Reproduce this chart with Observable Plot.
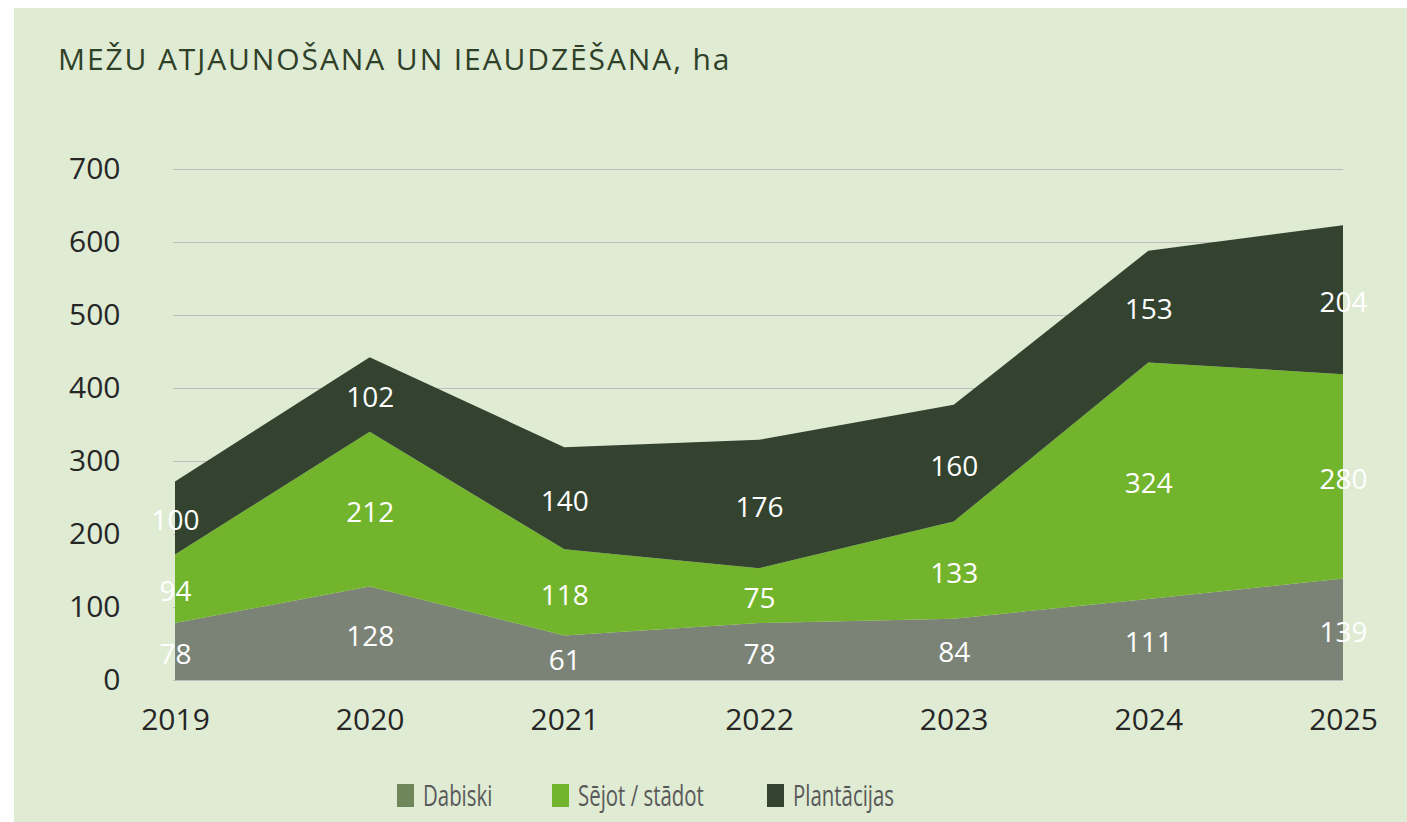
<!DOCTYPE html>
<html>
<head>
<meta charset="utf-8">
<script src="https://cdn.jsdelivr.net/npm/d3@7"></script>
<script src="https://cdn.jsdelivr.net/npm/@observablehq/plot@0.6"></script>
<style>
  html, body { margin: 0; padding: 0; background: #ffffff; }
  body { width: 1407px; height: 822px; position: relative; overflow: hidden; font-family: "Open Sans", sans-serif; }
  #card { position: absolute; left: 14px; top: 8px; width: 1393px; height: 814px; background: #dfebd3; }
  #title { position: absolute; left: 44px; top: 31px; font-size: 30px; letter-spacing: 1.9px; color: #2f4029; white-space: nowrap; line-height: 40px; }
  #chart { position: absolute; left: 0; top: 0; }
  .leg { position: absolute; top: 776px; height: 24px; }
  .sw { position: absolute; width: 17px; height: 23px; top: 0; }
  .lt { position: absolute; top: -9px; font-size: 30px; line-height: 40px; color: #595959; white-space: nowrap; transform: scaleX(0.68); transform-origin: left center; }
</style>
</head>
<body>
<div id="card">
  <div id="title">MEŽU ATJAUNOŠANA UN IEAUDZĒŠANA, ha</div>
  <div id="chart"></div>
  <div id="legend"></div>
</div>
<script>
const years = [2019, 2020, 2021, 2022, 2023, 2024, 2025];
const seriesNames = ["Dabiski", "Sējot / stādot", "Plantācijas"];
const dabiski = [78, 128, 61, 78, 84, 111, 139];
const sejot = [94, 212, 118, 75, 133, 324, 280];
const plantacijas = [100, 102, 140, 176, 160, 153, 204];
const areaColors = ["#7b8377", "#72b52d", "#334330"];
const legendColors = ["#6e8659", "#72b52d", "#334330"];
const yTicks = [0, 100, 200, 300, 400, 500, 600, 700];

const seriesValues = [dabiski, sejot, plantacijas];
const data = [];
seriesNames.forEach((s, i) => years.forEach((y, j) => data.push({year: y, series: s, value: seriesValues[i][j]})));

const stackOpts = {x: "year", y: "value", z: "series", order: seriesNames};

const chart = Plot.plot({
  width: 1393,
  height: 760,
  marginTop: 161,
  marginBottom: 88,
  marginLeft: 161,
  marginRight: 64,
  style: {background: "transparent", fontFamily: "Open Sans, sans-serif"},
  x: {domain: [2019, 2025], label: null},
  y: {domain: [0, 700], label: null},
  color: {domain: seriesNames, range: areaColors},
  marks: [
    Plot.ruleY(yTicks, {x1: 2018.99, x2: 2025, stroke: "#bdbdbd", strokeWidth: 1.2}),
    Plot.areaY(data, Plot.stackY({...stackOpts, fill: "series", curve: "linear"})),
    Plot.text(data, Plot.stackY({...stackOpts, text: d => String(d.value), fill: "#ffffff", fontSize: 28, textAnchor: "middle", dy: 3})),
    Plot.axisY({ticks: yTicks, tickSize: 0, tickPadding: 55, fontSize: 30, color: "#262626", tickFormat: d => String(d), label: null}),
    Plot.axisX({ticks: years, tickSize: 0, tickPadding: 28, fontSize: 30, color: "#262626", tickFormat: d => String(d), label: null})
  ]
});
document.getElementById("chart").appendChild(chart);

const legendX = [[383, 409], [538, 564], [753, 779]];
const legend = document.getElementById("legend");
seriesNames.forEach((s, i) => {
  const sw = document.createElement("div");
  sw.className = "leg";
  sw.style.left = legendX[i][0] + "px";
  sw.innerHTML = `<div class="sw" style="background:${legendColors[i]}"></div>`;
  legend.appendChild(sw);
  const t = document.createElement("div");
  t.className = "leg";
  t.style.left = legendX[i][1] + "px";
  t.innerHTML = `<div class="lt">${s}</div>`;
  legend.appendChild(t);
});
</script>
</body>
</html>
